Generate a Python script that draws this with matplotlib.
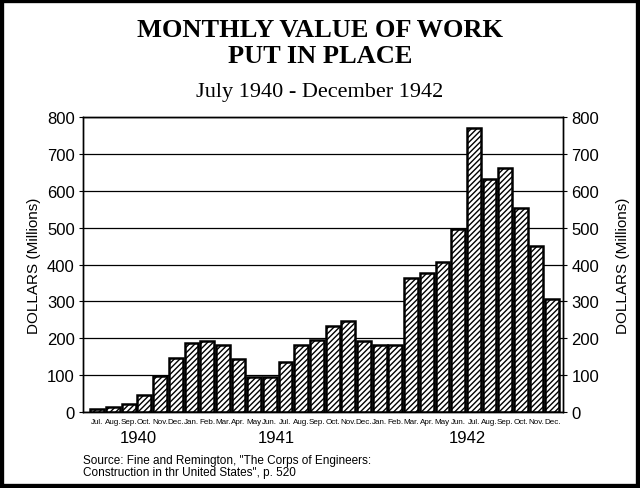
import numpy as np
import matplotlib.pyplot as plt
import matplotlib.transforms as mtransforms
from matplotlib.patches import Rectangle

plt.rcParams['hatch.linewidth'] = 1.0

# Monthly value of work put in place, July 1940 - December 1942 (millions of dollars)
months = ['Jul.', 'Aug.', 'Sep.', 'Oct.', 'Nov.', 'Dec.',
          'Jan.', 'Feb.', 'Mar.', 'Apr.', 'May', 'Jun.', 'Jul.', 'Aug.', 'Sep.', 'Oct.', 'Nov.', 'Dec.',
          'Jan.', 'Feb.', 'Mar.', 'Apr.', 'May', 'Jun.', 'Jul.', 'Aug.', 'Sep.', 'Oct.', 'Nov.', 'Dec.']
values = [10, 14, 22, 46, 97, 147,
          187, 194, 183, 145, 95, 95, 136, 181, 195, 233, 247, 193,
          181, 181, 363, 378, 406, 495, 771, 633, 662, 553, 451, 306]
years = ['1940', '1941', '1942']

fig = plt.figure(figsize=(6.4, 4.89), dpi=100)
ax = fig.add_axes([0.130, 0.155, 0.750, 0.604])

x = np.arange(len(values))
ax.bar(x, values, width=0.88, facecolor='white', edgecolor='black',
       hatch='//////', linewidth=1.8, zorder=3)

ax.set_xlim(-0.9, 29.7)
ax.set_ylim(0, 800)
ax.set_yticks(range(0, 801, 100))
ax.yaxis.grid(True, color='black', linewidth=0.9, zorder=0)
ax.set_axisbelow(True)
ax.set_xticks(x)
ax.set_xticklabels(months, fontsize=5.8, family='Liberation Sans')
ax.tick_params(axis='x', length=0, pad=4)
ax.tick_params(axis='y', length=3, labelsize=12, pad=3)
for lab in ax.get_yticklabels():
    lab.set_family('Liberation Sans')
ax.set_ylabel('DOLLARS (Millions)', fontsize=11, family='Liberation Sans', labelpad=4)
for sp in ax.spines.values():
    sp.set_linewidth(1.0)

ax2 = ax.twinx()
ax2.set_ylim(0, 800)
ax2.set_yticks(range(0, 801, 100))
ax2.tick_params(axis='y', length=3, labelsize=12, pad=3)
for lab in ax2.get_yticklabels():
    lab.set_family('Liberation Sans')
ax2.set_ylabel('DOLLARS (Millions)', fontsize=11, family='Liberation Sans',
               rotation=90, labelpad=12)
for sp in ax2.spines.values():
    sp.set_linewidth(1.0)

# year labels under the month names
trans = mtransforms.blended_transform_factory(ax.transData, ax.transAxes)
for pos, yr in zip([2.6, 11.4, 23.6], years):
    ax.text(pos, -0.085, yr, transform=trans, ha='center', va='center',
            fontsize=12, family='Liberation Sans')

fig.text(0.5, 0.9243, 'MONTHLY VALUE OF WORK', ha='center', va='baseline',
         fontsize=19, fontweight='bold', family='Liberation Serif')
fig.text(0.5, 0.8712, 'PUT IN PLACE', ha='center', va='baseline',
         fontsize=19, fontweight='bold', family='Liberation Serif')
fig.text(0.5, 0.8016, 'July 1940 - December 1942', ha='center', va='baseline',
         fontsize=16, family='Liberation Serif')
fig.text(0.130, 0.045, 'Source: Fine and Remington, "The Corps of Engineers:\n'
         'Construction in thr United States", p. 520', ha='left', va='center',
         fontsize=8.5, family='Liberation Sans', linespacing=1.1)

fig.patches.append(Rectangle((0, 0), 1, 1, transform=fig.transFigure, fill=False,
                             edgecolor='black', linewidth=6))

fig.savefig('out.png', dpi=100)
